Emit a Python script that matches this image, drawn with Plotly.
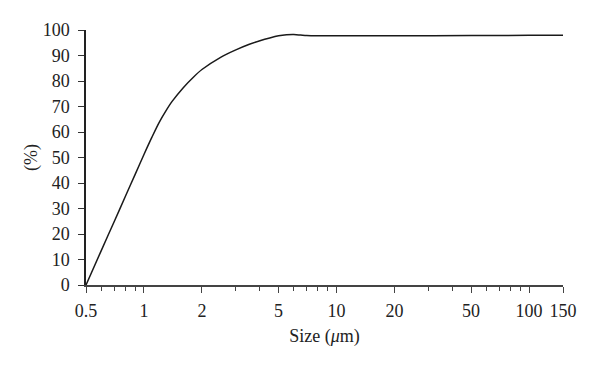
import plotly.graph_objects as go
import numpy as np

size_um = [0.5, 0.6, 0.7, 0.8, 0.9, 1.0, 1.1, 1.2, 1.3, 1.4, 1.6, 1.8, 2.0, 2.5, 3.0, 3.5, 4.0,
           4.5, 5.0, 5.5, 6.0, 6.5, 7.0, 8.0, 10, 20, 50, 100, 150]
percent = [0, 13.5, 24.8, 34.7, 43.4, 51.2, 58.0, 63.8, 68.3, 72.0, 77.4, 81.4, 84.5, 89.3,
           92.2, 94.3, 95.8, 96.9, 97.7, 98.1, 98.2, 98.0, 97.8, 97.7, 97.7, 97.7, 97.8, 97.9, 97.9]

x_ticks = [0.5, 1, 2, 5, 10, 20, 50, 100, 150]
x_ticklabels = ["0.5", "1", "2", "5", "10", "20", "50", "100", "150"]
x_minor = [0.6, 0.7, 0.8, 0.9, 3, 4, 6, 7, 8, 9, 30, 40, 60, 70, 80, 90]
y_ticks = list(range(0, 101, 10))

font = dict(family="Liberation Serif, Times New Roman, serif", size=18, color="#222")

fig = go.Figure()
fig.add_trace(go.Scatter(x=size_um, y=percent, mode="lines",
                         line=dict(color="#1a1a1a", width=1.5, shape="spline", smoothing=0.8),
                         showlegend=False))

# page body adds an 8px offset; margins compensate so the plot area sits at 86..563 x 30..285
fig.update_layout(
    width=600, height=368,
    margin=dict(l=78, r=45, t=22, b=91),
    paper_bgcolor="white", plot_bgcolor="white",
    font=font,
    xaxis=dict(type="log", range=[np.log10(0.5), np.log10(150)],
               tickmode="array", tickvals=x_ticks, ticktext=x_ticklabels,
               ticks="outside", ticklen=6, tickwidth=1.2, tickcolor="#444",
               ticklabelstandoff=3,
               showline=True, linecolor="#444", linewidth=1.5,
               showgrid=False, zeroline=False,
               minor=dict(tickvals=x_minor, ticks="outside", ticklen=4, tickwidth=1, tickcolor="#444", showgrid=False),
               title=dict(text="Size (<i>μ</i>m)", font=font, standoff=9)),
    yaxis=dict(range=[0, 100], tickmode="array", tickvals=y_ticks,
               ticks="outside", ticklen=6, tickwidth=1.2, tickcolor="#333",
               ticklabelstandoff=5,
               showline=True, linecolor="#222", linewidth=1.5,
               showgrid=False, zeroline=False,
               title=dict(text="(%)", font=font, standoff=0)),
)

fig.write_html("out.html")
